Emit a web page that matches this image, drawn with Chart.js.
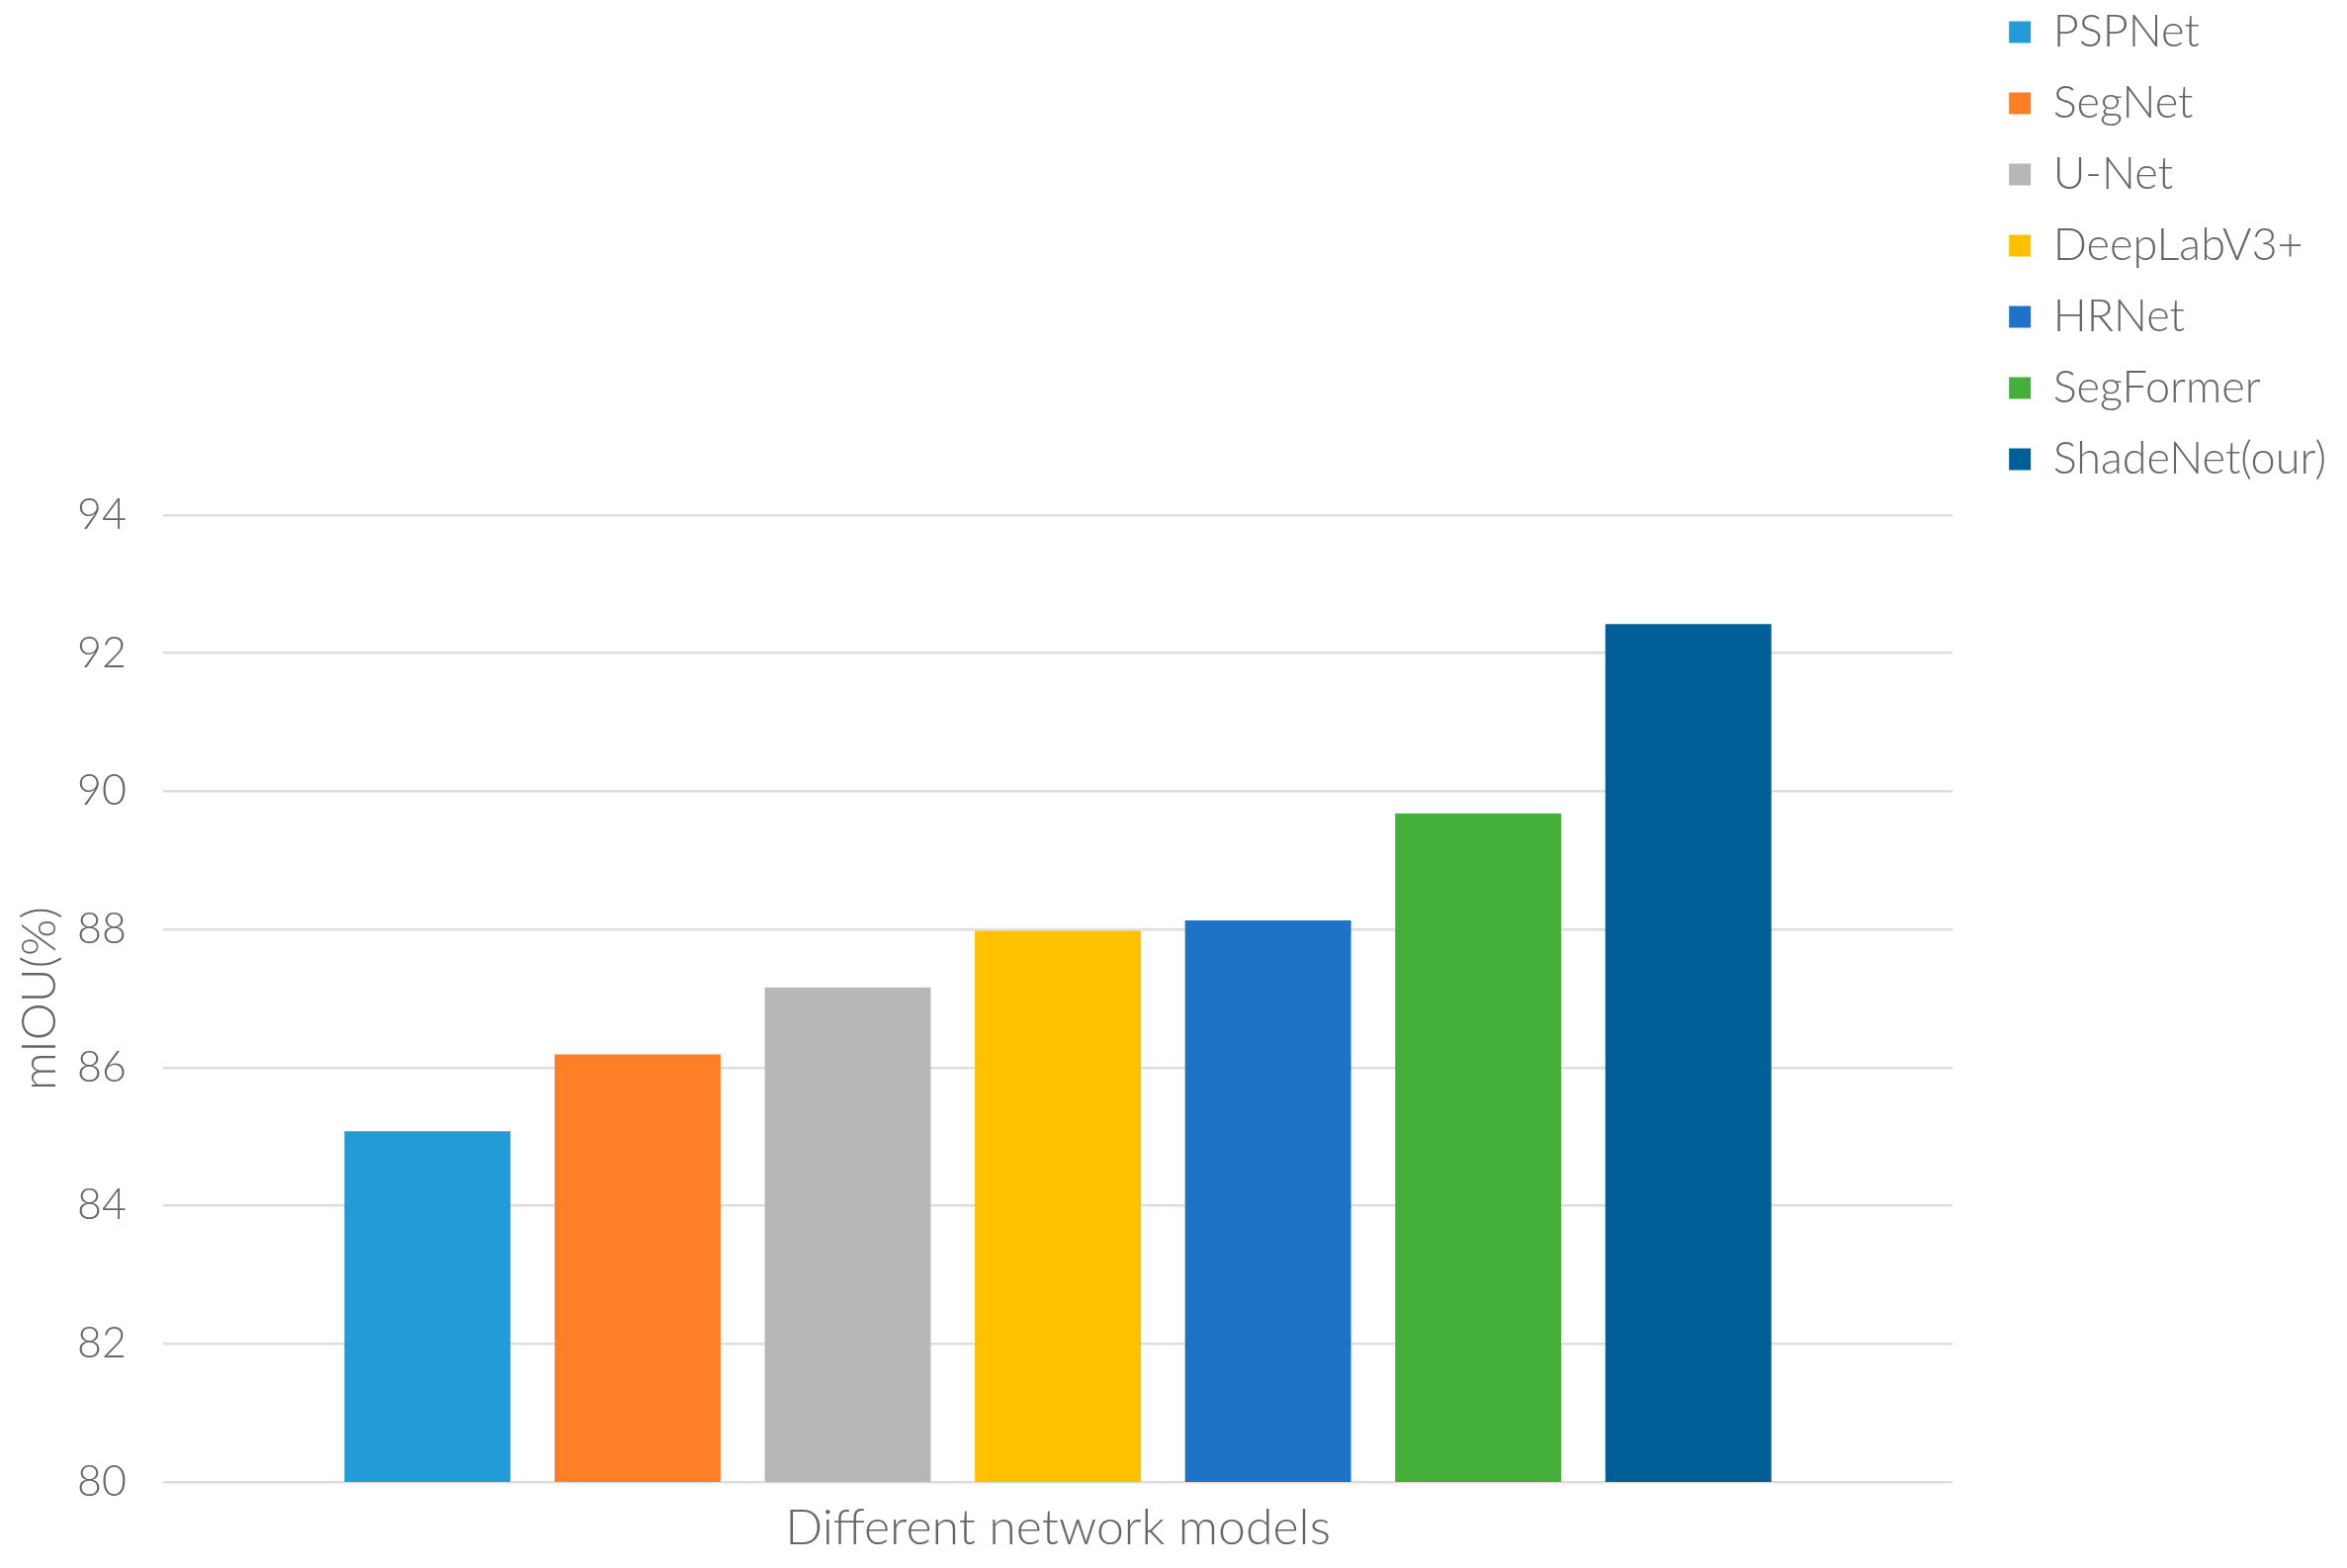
<!DOCTYPE html>
<html>
<head>
<meta charset="utf-8">
<script src="https://cdn.jsdelivr.net/npm/chart.js@4.4.1/dist/chart.umd.min.js"></script>
<style>
  html, body { margin: 0; padding: 0; background: #ffffff; overflow: hidden; }
  #wrap { position: absolute; left: 0; top: -17px; width: 2374px; height: 1603px; }
</style>
</head>
<body>
<div id="wrap"><canvas id="c"></canvas></div>
<script>
const categories = [''];
const modelNames = ['PSPNet', 'SegNet', 'U-Net', 'DeepLabV3+', 'HRNet', 'SegFormer', 'ShadeNet(our)'];
const miouValues = [85.08, 86.19, 87.16, 87.98, 88.13, 89.68, 92.42];
const modelColors = ['#229BD6', '#FF7F26', '#B7B7B7', '#FFC000', '#1E73C8', '#44AF3A', '#005F97'];
const yTicks = [80, 82, 84, 86, 88, 90, 92, 94];
const xAxisTitle = 'Different network models';
const yAxisTitle = 'mIOU(%)';

const FONT = 'Lato, Roboto, "Noto Sans", sans-serif';
const TEXT = '#666666';

const datasets = modelNames.map((name, i) => ({
  label: name,
  data: [miouValues[i]],
  backgroundColor: modelColors[i],
  borderWidth: 0,
  categoryPercentage: 0.822,
  barPercentage: 0.79
}));

new Chart(document.getElementById('c'), {
  type: 'bar',
  data: { labels: categories, datasets },
  options: {
    responsive: true,
    maintainAspectRatio: false,
    animation: false,
    layout: { padding: { left: 0, right: 11, top: 0, bottom: 0 } },
    plugins: {
      tooltip: { enabled: false },
      title: {
        display: true,
        text: '',
        fullSize: false,
        padding: { top: 528, bottom: 0 },
        font: { size: 10, lineHeight: 1 }
      },
      legend: {
        position: 'right',
        align: 'start',
        labels: {
          boxWidth: 22,
          boxHeight: 22,
          padding: 27,
          color: TEXT,
          font: { family: FONT, size: 45, weight: '300' }
        }
      }
    },
    scales: {
      x: {
        type: 'category',
        grid: { display: false },
        border: { display: false },
        ticks: { display: false },
        title: {
          display: true,
          text: xAxisTitle,
          color: TEXT,
          font: { family: FONT, size: 50, weight: '300', lineHeight: 1.2 },
          padding: { top: 0, bottom: 10 }
        },
        afterFit: s => { s.height = 87; }
      },
      y: {
        type: 'linear',
        min: yTicks[0],
        max: yTicks[yTicks.length - 1],
        afterBuildTicks: s => { s.ticks = yTicks.map(v => ({ value: v })); },
        grid: { color: '#dedede', lineWidth: 2.5, drawTicks: false },
        border: { display: false },
        ticks: {
          padding: 37,
          color: TEXT,
          font: { family: FONT, size: 43, weight: '300' }
        },
        title: {
          display: true,
          text: yAxisTitle,
          color: TEXT,
          font: { family: FONT, size: 48, weight: '300', lineHeight: 1.2 },
          padding: { top: 12, bottom: 0 }
        },
        afterFit: s => { s.width = 165; }
      },
      y1: {
        type: 'linear',
        position: 'right',
        min: 0,
        max: 1,
        grid: { display: false, drawTicks: false },
        border: { display: false },
        ticks: { display: false },
        afterFit: s => { s.width = 30; }
      }
    }
  }
});
</script>
</body>
</html>
